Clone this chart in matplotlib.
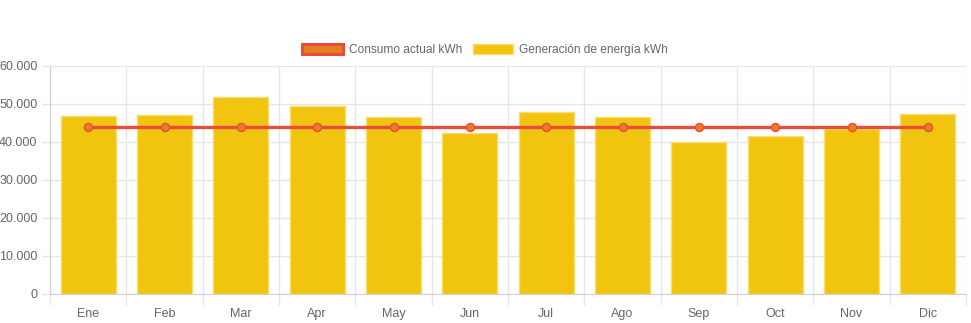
import matplotlib
matplotlib.use("Agg")
import matplotlib.pyplot as plt
from matplotlib.patches import Patch
from matplotlib.ticker import FuncFormatter
import numpy as np

months = ["Ene", "Feb", "Mar", "Apr", "May", "Jun", "Jul", "Ago", "Sep", "Oct", "Nov", "Dic"]
generacion = [46900, 47000, 51800, 49400, 46600, 42500, 47800, 46600, 40000, 41500, 43500, 47500]
consumo = [44000] * 12
yticks = [0, 10000, 20000, 30000, 40000, 50000, 60000]

plt.rcParams['font.family'] = ['Liberation Sans', 'DejaVu Sans']
W, H = 971, 323
fig = plt.figure(figsize=(W / 100, H / 100), dpi=100)
ax = fig.add_axes([50 / W, 1 - 294 / H, (966 - 50) / W, (294 - 66) / H])

x = np.arange(len(months))
grid_c = '#e6e6e6'
text_c = '#666666'

ax.bar(x, generacion, width=0.72, color='#F1C40F', edgecolor='#F7DC6F', linewidth=1, zorder=2)
ax.plot(x, consumo, color='#E74C3C', linewidth=2.4, marker='o', markersize=5.8,
        markerfacecolor='#E67E22', markeredgecolor='#E74C3C', markeredgewidth=1.0, zorder=3)

ax.set_xlim(-0.5, len(months) - 0.5)
ax.set_ylim(0, 60000)
ax.set_yticks(yticks)
ax.yaxis.set_major_formatter(FuncFormatter(lambda v, p: f"{int(v):,}".replace(",", ".")))
ax.set_xticks(x)
ax.set_xticklabels(months)
ax.set_xticks(np.arange(-0.5, len(months), 1), minor=True)

ax.tick_params(axis='x', which='major', length=0, pad=10, labelsize=9, colors=text_c)
ax.tick_params(axis='x', which='minor', length=8, color=grid_c, width=1)
ax.tick_params(axis='y', length=6, color=grid_c, width=1, labelsize=9, colors=text_c, pad=3)
ax.tick_params(axis='y', colors=grid_c)
for lab in ax.get_yticklabels():
    lab.set_color(text_c)

ax.grid(axis='y', color=grid_c, linewidth=1, zorder=0)
ax.grid(axis='x', which='minor', color=grid_c, linewidth=1, zorder=0)
ax.set_axisbelow(True)
for s in ['top', 'right']:
    ax.spines[s].set_visible(False)
ax.spines['left'].set_color('#d0d0d0')
ax.spines['bottom'].set_color('#d0d0d0')

handles = [Patch(facecolor='#E67E22', edgecolor='#E74C3C', linewidth=2.2, label='Consumo actual kWh'),
           Patch(facecolor='#F1C40F', edgecolor='#F7DC6F', linewidth=1, label='Generación de energía kWh')]
leg = fig.legend(handles=handles, loc='center', bbox_to_anchor=(485 / W, 1 - 50 / H), ncol=2,
                 frameon=False, fontsize=8.6, handlelength=3.4, handleheight=0.95, columnspacing=0.9,
                 handletextpad=0.5)
for t in leg.get_texts():
    t.set_color(text_c)

fig.savefig("out.png", dpi=100)
